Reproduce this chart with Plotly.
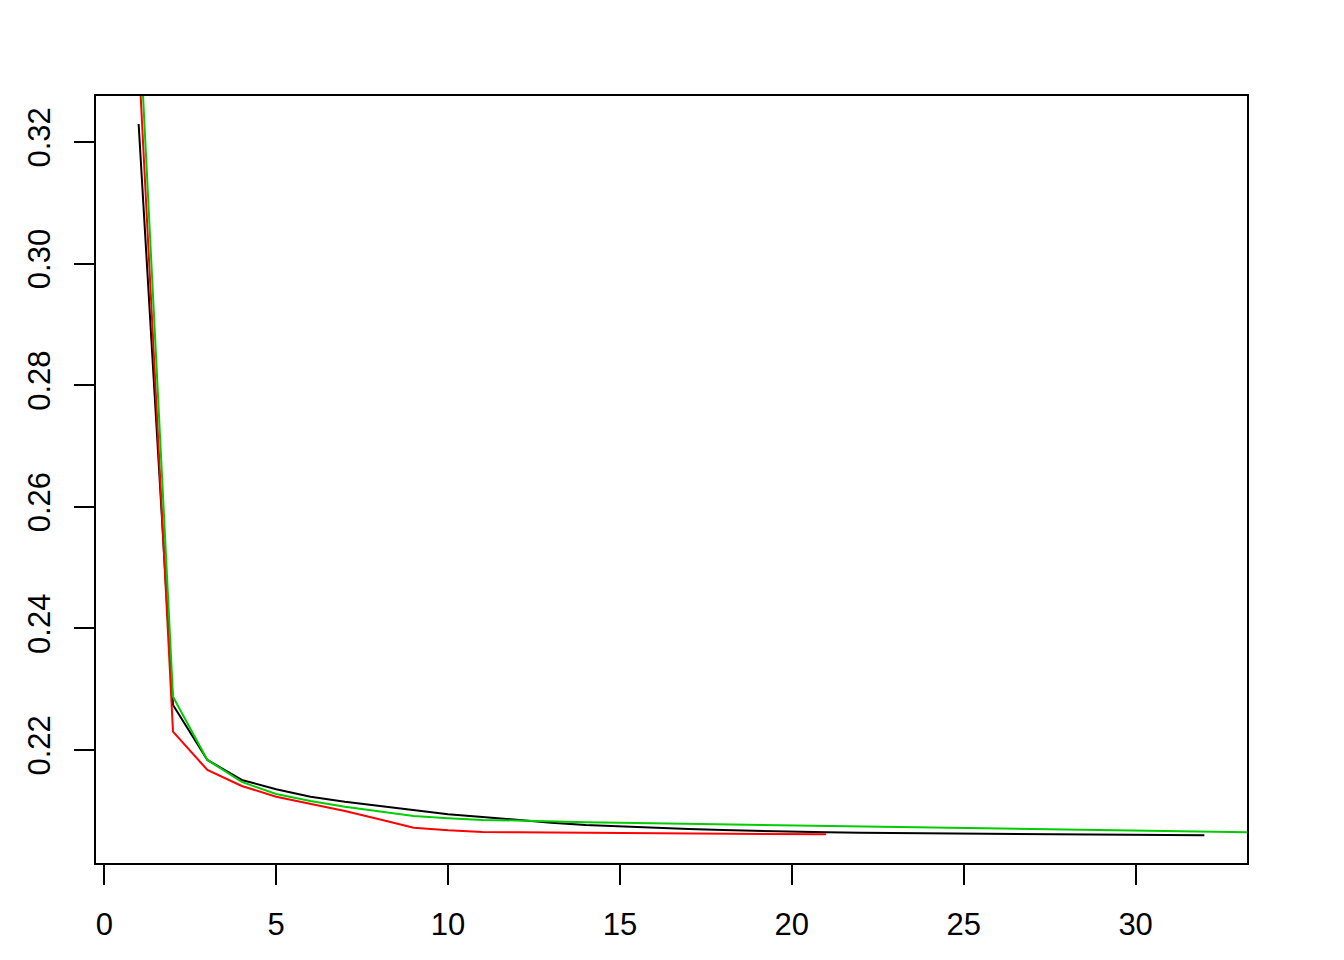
import plotly.graph_objects as go

# ── data ─────────────────────────────────────────────────
x_black = list(range(1, 33))
y_black = [0.32296, 0.22740, 0.21836, 0.21507, 0.21354, 0.21232, 0.21150, 0.21079,
           0.21008, 0.20942, 0.20898, 0.20849, 0.20804, 0.20766, 0.20742, 0.20719,
           0.20701, 0.20684, 0.20669, 0.20656, 0.20645, 0.20638, 0.20633, 0.20628,
           0.20623, 0.20618, 0.20615, 0.20610, 0.20607, 0.20604, 0.20600, 0.20597]

x_red = list(range(1, 22))
y_red = [0.33420, 0.22301, 0.21671, 0.21408, 0.21232, 0.21112, 0.20997, 0.20860,
         0.20722, 0.20679, 0.20651, 0.20646, 0.20641, 0.20638, 0.20635, 0.20632,
         0.20628, 0.20625, 0.20622, 0.20618, 0.20613]

x_green = list(range(1, 35))
y_green = [0.34210, 0.22877, 0.21836, 0.21474, 0.21276, 0.21161, 0.21068, 0.20985,
           0.20914, 0.20877, 0.20849, 0.20840, 0.20821, 0.20813, 0.20803, 0.20794,
           0.20786, 0.20778, 0.20770, 0.20762, 0.20752, 0.20743, 0.20734, 0.20725,
           0.20715, 0.20706, 0.20696, 0.20686, 0.20676, 0.20668, 0.20660, 0.20651,
           0.20646, 0.20641]

x_ticks = [0, 5, 10, 15, 20, 25, 30]
y_ticks = [0.22, 0.24, 0.26, 0.28, 0.30, 0.32]

FONT = dict(family="Liberation Sans, Arial, Helvetica, sans-serif", size=31, color="black")

fig = go.Figure()
for xs, ys, col in [(x_black, y_black, "black"),
                    (x_red, y_red, "#FF0000"),
                    (x_green, y_green, "#00CD00")]:
    fig.add_trace(go.Scatter(x=xs, y=ys, mode="lines",
                             line=dict(color=col, width=2), showlegend=False))

axis_common = dict(showgrid=False, zeroline=False, showline=True, mirror=True,
                   linecolor="black", linewidth=2, ticks="outside", ticklen=20,
                   tickwidth=2, tickcolor="black", tickfont=FONT)

# page body adds an 8px offset, so margins are shifted to compensate
fig.update_layout(
    width=1344, height=960, autosize=False,
    paper_bgcolor="white", plot_bgcolor="white",
    margin=dict(l=88, r=105, t=88, b=105),
    font=FONT,
    xaxis=dict(range=[-0.24, 33.24], tickvals=x_ticks, ticklabelstandoff=13,
               **axis_common),
    yaxis=dict(range=[0.20141, 0.32757], tickvals=y_ticks, tickformat=".2f",
               tickangle=-90, ticklabelstandoff=12, **axis_common),
)

fig.write_html("out.html")
